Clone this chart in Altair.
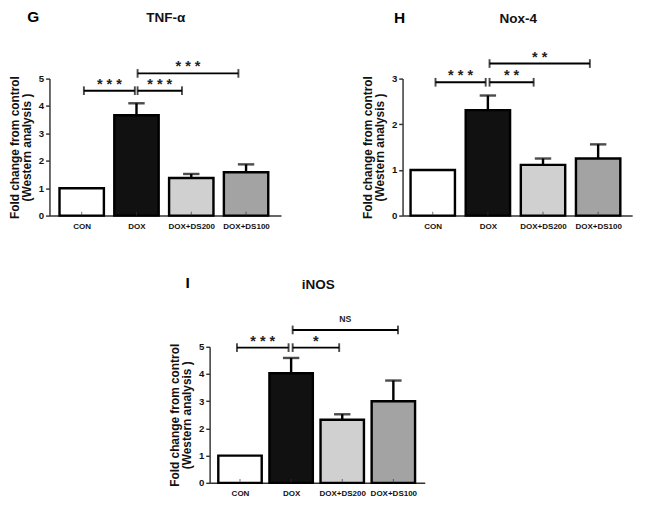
import json
import altair as alt
import pandas as pd

groups = ["CON", "DOX", "DOX+DS200", "DOX+DS100"]
fills = ["#ffffff", "#111111", "#d0d0d0", "#a3a3a3"]

# Panel G: TNF-alpha
tnf_mean = [1.0, 3.66, 1.37, 1.58]
tnf_err = [0.0, 0.44, 0.15, 0.29]
tnf_br_x1 = [0.04, 1.02, 1.02]
tnf_br_x2 = [0.97, 1.83, 2.86]
tnf_br_y = [4.56, 4.56, 5.19]
tnf_br_lab = ["* * *", "* * *", "* * *"]

# Panel H: Nox-4
nox_mean = [1.0, 2.31, 1.11, 1.25]
nox_err = [0.0, 0.32, 0.14, 0.31]
nox_br_x1 = [0.05, 1.03, 1.03]
nox_br_x2 = [0.96, 1.83, 2.85]
nox_br_y = [2.92, 2.92, 3.33]
nox_br_lab = ["* * *", "* *", "* *"]

# Panel I: iNOS
inos_mean = [1.0, 4.03, 2.32, 3.0]
inos_err = [0.0, 0.56, 0.2, 0.76]
inos_br_x1 = [-0.06, 1.03, 1.03]
inos_br_x2 = [0.95, 1.94, 3.09]
inos_br_y = [4.97, 4.97, 5.62]
inos_br_lab = ["* * *", "*", "NS"]

FONT = "Liberation Sans"
label_expr = json.dumps(groups) + "[datum.value]"


def panel(means, errs, bx1, bx2, by, blab, ymax, width, height, xdom, barsize,
          letter, letter_pos, title, title_pos):
    df = pd.DataFrame({"idx": list(range(len(groups))), "group": groups,
                       "mean": means, "err": errs})
    br = pd.DataFrame({"x1": bx1, "x2": bx2, "y": by, "label": blab})

    xsc = alt.Scale(domain=xdom, nice=False, zero=False)
    ysc = alt.Scale(domain=[0, ymax], nice=False, zero=True)
    xaxis = alt.Axis(values=[0, 1, 2, 3], labelExpr=label_expr, title=None,
                     tickSize=0, labelPadding=6, labelFontSize=8.3,
                     labelFontWeight="bold", labelColor="#111", domainColor="#333",
                     domainWidth=1.5, grid=False, labelFont=FONT,
                     labelOverlap=False)
    yaxis = alt.Axis(values=list(range(int(ymax) + 1)), format="d",
                     title=["Fold change from control", "(Western analysis )"],
                     titleFontSize=12.3, titleFontWeight="bold", titleFont=FONT,
                     titleColor="#111", titlePadding=5, titleLineHeight=12.5,
                     labelFontSize=10, labelFontWeight="bold", labelFont=FONT,
                     labelColor="#111", labelPadding=2, tickSize=4,
                     tickColor="#333", tickWidth=1.5, domainColor="#333",
                     domainWidth=1.5, grid=False, labelOverlap=False)

    def X(f):
        return alt.X(f, type="quantitative", scale=xsc, axis=xaxis)

    def Y(f):
        return alt.Y(f, type="quantitative", scale=ysc, axis=yaxis)

    base = alt.Chart(df)
    bars = base.mark_bar(size=barsize, stroke="black", strokeWidth=2.5).encode(
        x=X("idx"), y=Y("mean"),
        fill=alt.Fill("group:N", scale=alt.Scale(domain=groups, range=fills),
                      legend=None),
    )
    errd = base.transform_filter("datum.err > 0").transform_calculate(
        top="datum.mean + datum.err")
    stems = errd.mark_rule(color="black", strokeWidth=2.5).encode(
        x=X("idx"), y=Y("mean"), y2="top:Q")
    caps = errd.mark_tick(orient="horizontal", size=17, thickness=2.5,
                          color="black").encode(x=X("idx"), y=Y("top"))
    inticks = base.mark_tick(orient="vertical", size=4, thickness=1,
                             color="#333", yOffset=-2).encode(
        x=X("idx"), y=alt.YDatum(0, type="quantitative", scale=ysc, axis=yaxis))

    bbase = alt.Chart(br)
    blines = bbase.mark_rule(color="black", strokeWidth=2).encode(
        x=X("x1"), x2="x2:Q", y=Y("y"))
    bcaps = bbase.transform_fold(["x1", "x2"], as_=["end", "xv"]).mark_tick(
        orient="vertical", size=9, thickness=2, color="black").encode(
        x=X("xv"), y=Y("y"))
    bmid = bbase.transform_calculate(xc="(datum.x1 + datum.x2) / 2")
    stars = bmid.transform_filter("datum.label != 'NS'").mark_text(
        fontSize=15, fontWeight="bold", font=FONT, baseline="alphabetic",
        dy=-2, color="#222").encode(x=X("xc"), y=Y("y"), text="label:N")
    ns = bmid.transform_filter("datum.label == 'NS'").mark_text(
        fontSize=9, fontWeight="bold", font=FONT, baseline="alphabetic",
        dy=-8, color="#222").encode(x=X("xc"), y=Y("y"), text="label:N")

    tdf = pd.DataFrame({"letter": [letter], "title": [title]})
    tl = alt.Chart(tdf).mark_text(align="left", baseline="top",
                                  fontSize=16, fontWeight="bold", font=FONT,
                                  color="black").encode(
        x=alt.value(letter_pos[0]), y=alt.value(letter_pos[1]), text="letter:N")
    tt = alt.Chart(tdf).mark_text(align="center", baseline="top",
                                  fontSize=14, fontWeight="bold", font=FONT,
                                  color="#111").encode(
        x=alt.value(title_pos[0]), y=alt.value(title_pos[1]), text="title:N")

    return alt.layer(bars, stems, caps, inticks, blines, bcaps, stars, ns, tl, tt
                     ).properties(width=width, height=height)


def spacer(w):
    return alt.Chart(pd.DataFrame({"a": [0]})).mark_rule(
        color="white", strokeWidth=1).encode(
        x=alt.value(0), x2=alt.value(w), y=alt.value(0)).properties(
        width=w, height=1)


G = panel(tnf_mean, tnf_err, tnf_br_x1, tnf_br_x2, tnf_br_y, tnf_br_lab, 5,
          240, 142, [-0.5, 3.55], 46, "G", (-23, -71.5), "TNF-α", (120.5, -69.7))
H = panel(nox_mean, nox_err, nox_br_x1, nox_br_x2, nox_br_y, nox_br_lab, 3,
          238, 142, [-0.46, 3.53], 46, "H", (-9, -70.8), "Nox-4", (120, -68.7))
I = panel(inos_mean, inos_err, inos_br_x1, inos_br_x2, inos_br_y, inos_br_lab, 5,
          223, 141, [-0.5, 3.52], 45, "I", (-25, -73.5), "iNOS", (112.5, -70.7))

row1 = alt.hconcat(G, H, spacing=83)
row2 = alt.hconcat(spacer(122), I, spacing=0)
chart = alt.vconcat(row1, row2, spacing=47).properties(
    padding={"left": 0, "top": -8, "right": 5, "bottom": 5}).configure(
    font=FONT, background="white").configure_view(stroke=None)

chart.save("out.html", embed_options={"renderer": "svg", "actions": False})
